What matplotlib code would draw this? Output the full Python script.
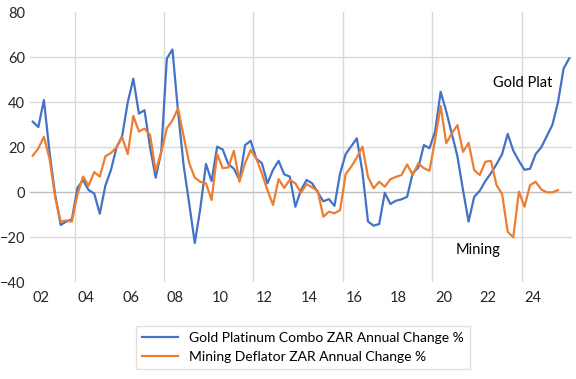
import numpy as np
import matplotlib
matplotlib.use("Agg")
import matplotlib.pyplot as plt

# quarterly observations, first one at 2001 Q3
start_year = 2001.625
gold_plat = [31.4, 29, 41, 18, -1, -14.5, -13, -12, 2, 5.5, 1, -0.5, -9.5, 3, 10, 20,
             25, 40, 50.5, 35, 36.5, 20, 6.5, 18, 59.5, 63.5, 36, 12, -5, -22.5, -7, 12.6,
             5, 20.3, 19, 12.5, 10.5, 5.5, 21, 22.9, 15, 13, 4, 10, 14, 8,
             7, -6.4, 1, 5.5, 4, 0, -4, -3, -6, 8.4, 17, 20.5, 24, 9, -13, -14.8,
             -14.1, -0.2, -5.2, -3.7, -3.1, -2, 8.6, 11, 21, 19.6, 27, 44.7, 36, 26,
             16, 1, -13, -2, 0.7, 5, 8.5, 12.5, 17, 26, 18.5, 14, 10, 10.5, 17, 20,
             25, 30, 40, 55, 59.5]
mining = [16.3, 19.5, 24.7, 15, -2, -13, -12.5, -13, -1, 7, 3, 9, 7, 16, 17.5, 20,
          24.5, 17, 34, 27, 28.3, 25.5, 9.5, 18, 28.5, 32, 37.3, 25, 13, 6.5, 4.7, 4,
          -3.4, 17, 10.7, 11.1, 18.5, 4.7, 13, 18.8, 15.1, 8.4, 1, -5.6, 5.9, 2,
          5.5, 4, -0.2, 3.7, 2.2, 0.7, -10.8, -8.6, -9.3, -7.9, 8.1, 11.4, 15.5, 20.3,
          6.9, 1.8, 4.7, 2.5, 5.8, 6.9, 7.7, 12.4, 7.7, 12.9, 10.7, 9.6, 23.2, 38.4,
          21.8, 26.2, 29.9, 18, 22, 9.9, 7.7, 13.6, 14, 3.2, -0.8, -17.5, -20, 0.3,
          -6.4, 3.2, 4.7, 1.3, 0, 0, 1]
tick_years = list(range(2002, 2025, 2))
tick_labels = [f"{y % 100:02d}" for y in tick_years]
grid_years = [2003.5, 2007.5, 2011.5, 2015.5, 2019.5, 2023.5]

x_gold = start_year + 0.25 * np.arange(len(gold_plat))
x_mining = start_year + 0.25 * np.arange(len(mining))

plt.rcParams['font.family'] = ['Lato', 'DejaVu Sans']
fig = plt.figure(figsize=(5.76, 3.79), dpi=100)
ax = fig.add_axes([0.052, 0.255, 0.941, 0.7125])

ax.plot(x_gold, gold_plat, color="#4472C4", lw=1.6,
        label="Gold Platinum Combo ZAR Annual Change %")
ax.plot(x_mining, mining, color="#ED7D31", lw=1.6,
        label="Mining Deflator ZAR Annual Change %")

ax.set_xlim(2001.5, 2025.75)
ax.set_ylim(-40, 80)
ax.set_yticks(range(-40, 81, 20))
ax.set_xticks(tick_years)
ax.set_xticklabels(tick_labels)
ax.tick_params(length=0, labelsize=10.5, labelcolor="#262626")
ax.tick_params(axis="x", pad=6)

for v in [-20, 20, 40, 60]:
    ax.axhline(v, color="#D9D9D9", lw=1, zorder=0)
for g in grid_years:
    ax.axvline(g, color="#D9D9D9", lw=1, zorder=0)
ax.axhline(0, color="#BFBFBF", lw=1, zorder=1)
for s in ax.spines.values():
    s.set_visible(False)

ax.text(2022.2, 48.4, "Gold Plat", fontsize=10.5, color="#000000", va="center")
ax.text(2020.55, -25.5, "Mining", fontsize=10.5, color="#000000", va="center")

leg = fig.legend(loc="upper left", bbox_to_anchor=(0.236, 0.14), fontsize=10,
                 frameon=True, fancybox=False, edgecolor="#D9D9D9",
                 handlelength=2.6, borderpad=0.45, labelspacing=0.5,
                 borderaxespad=0)
leg.get_frame().set_linewidth(1)

fig.savefig("out.png", dpi=100)
